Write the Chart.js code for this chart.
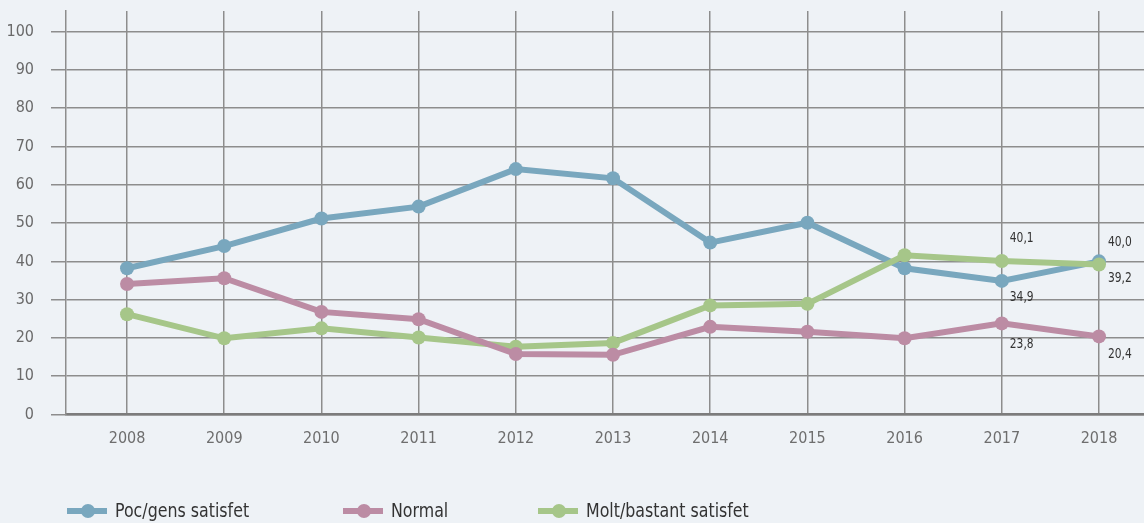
<!DOCTYPE html>
<html>
<head>
<meta charset="utf-8">
<script src="https://cdn.jsdelivr.net/npm/chart.js@4"></script>
<style>
  html, body { margin: 0; padding: 0; background: #eef2f6; }
  #wrap { width: 1144px; height: 523px; position: relative; }
</style>
</head>
<body>
<div id="wrap"><canvas id="myChart"></canvas></div>
<script>
// dades llegides del gràfic
const years = [2008, 2009, 2010, 2011, 2012, 2013, 2014, 2015, 2016, 2017, 2018];
const pocGens = [38.2, 44.0, 51.2, 54.3, 64.1, 61.7, 44.9, 50.1, 38.2, 34.9, 40.0];
const normal = [34.1, 35.6, 26.8, 24.9, 15.8, 15.6, 22.9, 21.6, 19.9, 23.8, 20.4];
const moltBastant = [26.2, 19.9, 22.5, 20.1, 17.7, 18.7, 28.5, 28.9, 41.6, 40.1, 39.2];
const yTicks = [0, 10, 20, 30, 40, 50, 60, 70, 80, 90, 100];
const seriesNames = ['Poc/gens satisfet', 'Normal', 'Molt/bastant satisfet'];
const seriesColors = ['#79a7be', '#bc8ca4', '#a6c689'];

const FONT = '"Liberation Sans Narrow", "DejaVu Sans Condensed", "Roboto", sans-serif';

// etiquetes de valor: [dataset, punt, dx, dy]
const valueLabels = [
    [2, 9, 8, -23], [0, 9, 8, 16], [1, 9, 8, 21],
    [0, 10, 9, -19], [2, 10, 9, 14], [1, 10, 9, 18]
];

function makeDataset(i, values, order) {
    return {
        label: seriesNames[i],
        data: years.map((y, k) => ({ x: y, y: values[k] })),
        borderColor: seriesColors[i],
        backgroundColor: seriesColors[i],
        borderWidth: 6,
        pointRadius: 7,
        pointHoverRadius: 7,
        pointBorderWidth: 0,
        tension: 0,
        order: order
    };
}

// text estret (la font condensada no hi és)
function narrowText(ctx, txt, x, y, sx) {
    ctx.save();
    ctx.translate(x, y);
    ctx.scale(sx, 1);
    ctx.fillText(txt, 0, 0);
    ctx.restore();
}

const labelsPlugin = {
    id: 'valueLabels',
    afterDatasetsDraw(chart) {
        const ctx = chart.ctx;
        ctx.save();
        ctx.font = '14px ' + FONT;
        ctx.fillStyle = '#333333';
        ctx.textAlign = 'left';
        ctx.textBaseline = 'middle';
        valueLabels.forEach(([d, p, dx, dy]) => {
            const pt = chart.getDatasetMeta(d).data[p];
            const v = chart.data.datasets[d].data[p].y;
            narrowText(ctx, v.toFixed(1).replace('.', ','), pt.x + dx, pt.y + dy, 0.85);
        });
        ctx.restore();
    }
};

const legendPlugin = {
    id: 'lineLegend',
    afterDraw(chart) {
        const ctx = chart.ctx;
        const starts = [67, 343, 538];
        const y = 511;
        ctx.save();
        chart.data.datasets.forEach((ds, i) => {
            const x = starts[i];
            ctx.strokeStyle = ds.borderColor;
            ctx.lineWidth = 6;
            ctx.beginPath();
            ctx.moveTo(x, y);
            ctx.lineTo(x + 40, y);
            ctx.stroke();
            ctx.fillStyle = ds.borderColor;
            ctx.beginPath();
            ctx.arc(x + 21, y, 7, 0, Math.PI * 2);
            ctx.fill();
            ctx.fillStyle = '#333333';
            ctx.font = '20px ' + FONT;
            ctx.textAlign = 'left';
            ctx.textBaseline = 'middle';
            narrowText(ctx, ds.label, x + 48, y + 1, 0.88);
        });
        ctx.restore();
    }
};

const ctx = document.getElementById('myChart').getContext('2d');
const myChart = new Chart(ctx, {
    type: 'line',
    data: {
        datasets: [
            makeDataset(0, pocGens, 2),
            makeDataset(1, normal, 0),
            makeDataset(2, moltBastant, 1)
        ]
    },
    options: {
        responsive: true,
        maintainAspectRatio: false,
        animation: false,
        layout: { autoPadding: false, padding: { top: 11, left: 0, right: 0, bottom: 0 } },
        plugins: {
            legend: { display: false },
            tooltip: { enabled: false }
        },
        scales: {
            x: {
                type: 'linear',
                min: 2007.372,
                max: 2018.463,
                afterBuildTicks: (scale) => { scale.ticks = years.map(v => ({ value: v })); },
                afterFit: (scale) => {
                    scale.height = 108.5;
                    scale.paddingLeft = 0;
                    scale.paddingRight = 0;
                },
                grid: { color: '#8d8d8d', lineWidth: 1.5, drawTicks: false },
                border: { color: '#7c7c7c', width: 2.5 },
                ticks: {
                    padding: 15,
                    color: '#6e6e6e',
                    font: { family: FONT, size: 16 },
                    callback: (v) => String(v)
                }
            },
            y: {
                min: 0,
                max: 105.4,
                afterBuildTicks: (scale) => { scale.ticks = yTicks.map(v => ({ value: v })); },
                afterFit: (scale) => {
                    scale.width = 66;
                    scale.paddingTop = 0;
                    scale.paddingBottom = 0;
                },
                grid: { color: '#8d8d8d', lineWidth: 1.5, tickLength: 15 },
                border: { color: '#8d8d8d', width: 1.5 },
                ticks: {
                    padding: 17,
                    color: '#6a6a6a',
                    font: { family: FONT, size: 16 }
                }
            }
        }
    },
    plugins: [labelsPlugin, legendPlugin]
});
</script>
</body>
</html>
